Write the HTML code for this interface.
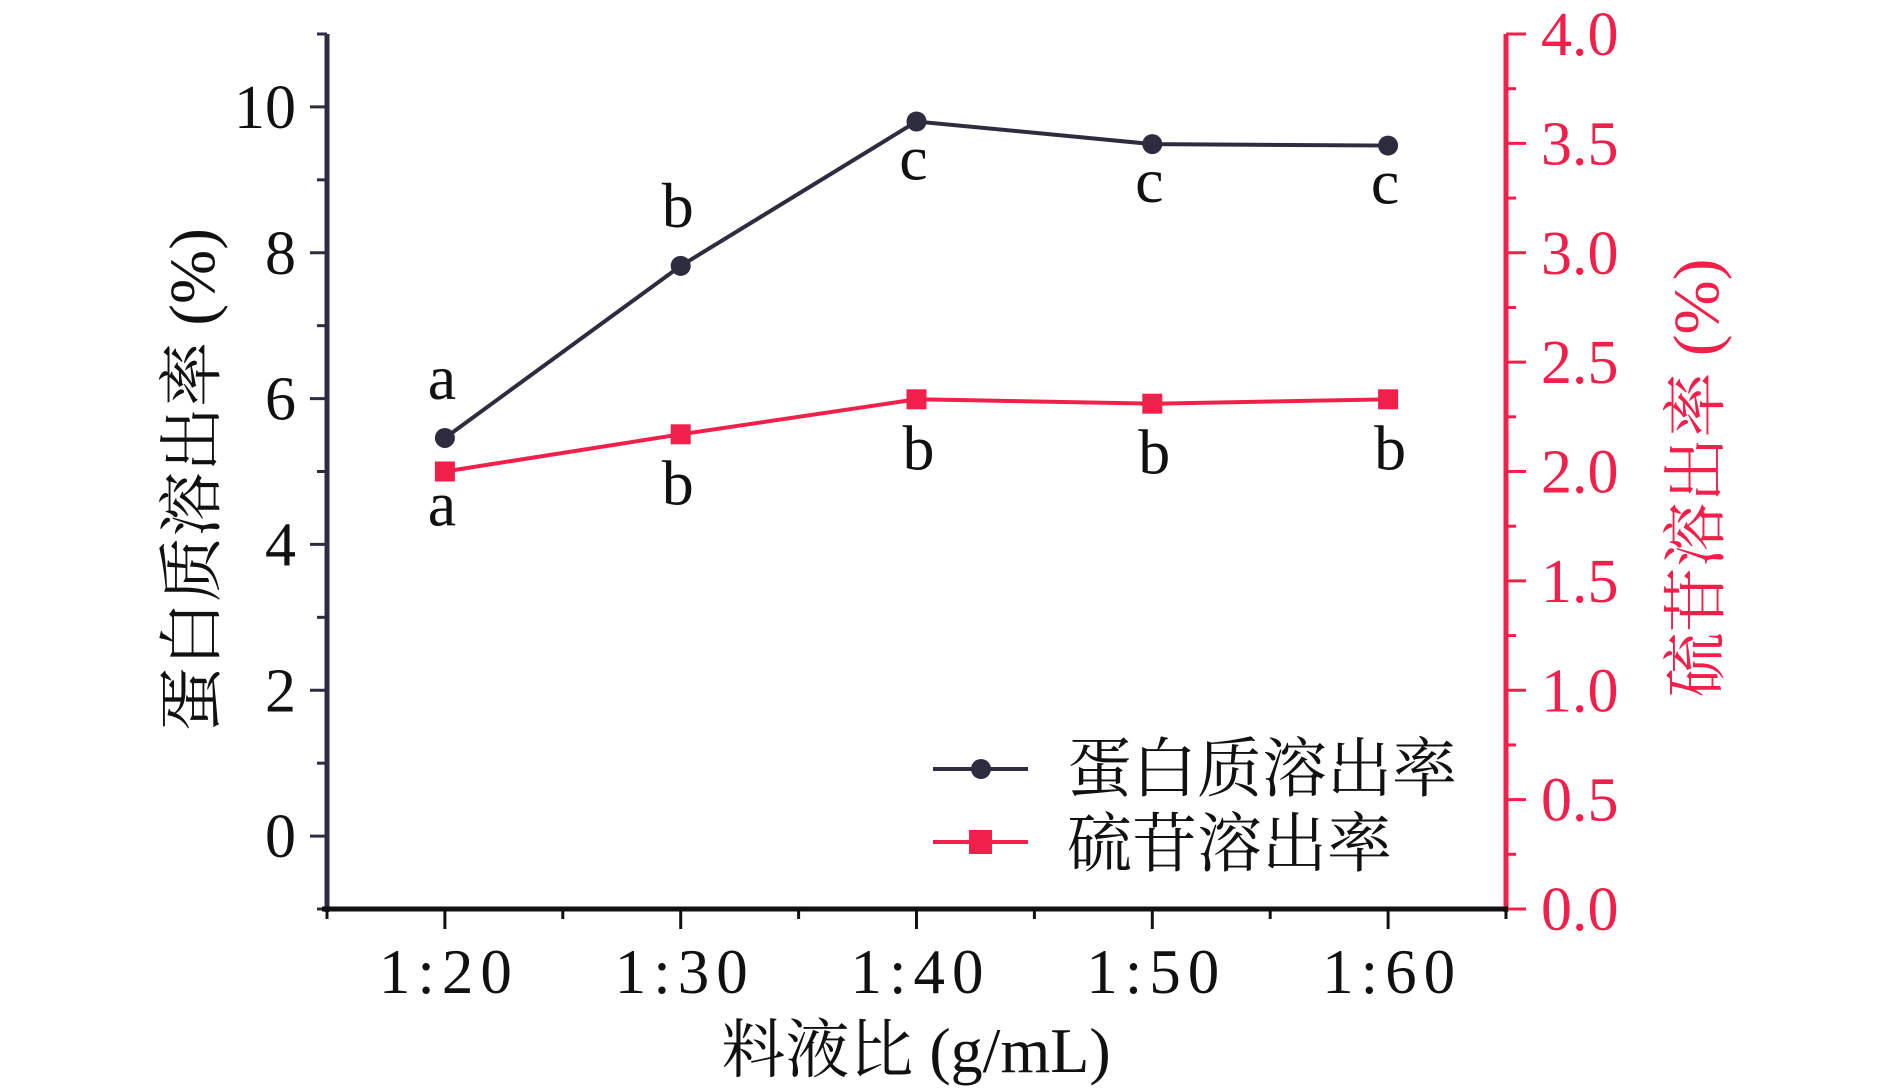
<!DOCTYPE html>
<html><head><meta charset="utf-8">
<style>
html,body{margin:0;padding:0;background:#fff;}
svg{display:block;}
text{font-family:"Liberation Serif","Noto Serif CJK SC",serif;}
</style></head>
<body>
<svg id="chart" width="1890" height="1091" viewBox="0 0 1890 1091" xmlns="http://www.w3.org/2000/svg">
<g id="axes"></g>
<g id="series"></g>
<g>
  <line x1="933" y1="769" x2="1028" y2="769" stroke="#2e2d3f" stroke-width="4"/>
  <circle cx="981" cy="769" r="10" fill="#2e2d3f"/>
  <text x="1067" y="791" font-size="65" fill="#111">蛋白质溶出率</text>
  <line x1="933" y1="842" x2="1028" y2="842" stroke="#f0204a" stroke-width="4"/>
  <rect x="969" y="830" width="23" height="24" fill="#f0204a"/>
  <text x="1067" y="866" font-size="65" fill="#111">硫苷溶出率</text>
</g>
<text x="0" y="0" font-size="65" fill="#111" text-anchor="middle" transform="translate(214,480) rotate(-90)">蛋白质溶出率 (%)</text>
<text x="0" y="0" font-size="65" fill="#f0204a" text-anchor="middle" transform="translate(1718,478) rotate(-90)">硫苷溶出率 (%)</text>
<text x="916" y="1072" font-size="64" fill="#111" text-anchor="middle">料液比 (g/mL)</text>
</svg>
<script>
const categories = ["1:20","1:30","1:40","1:50","1:60"];
const proteinValues = [5.46, 7.82, 9.80, 9.49, 9.47];
const glucoValues = [2.00, 2.17, 2.33, 2.31, 2.33];
const proteinLetters = ["a","b","c","c","c"];
const glucoLetters = ["a","b","b","b","b"];
const leftTicks = [0,2,4,6,8,10];
const rightTicks = ["0.0","0.5","1.0","1.5","2.0","2.5","3.0","3.5","4.0"];

const NS="http://www.w3.org/2000/svg";
const X0=327, X1=1506, YT=34, YB=909;
const DARK="#2e2d3f", RED="#f0204a";
function xPos(i){return X0+(i+0.5)*(X1-X0)/categories.length;}
function yL(v){return YB-(v+1)*(YB-YT)/12;}
function yR(v){return YB-v*(YB-YT)/4;}
function mk(tag,attrs,parent){const e=document.createElementNS(NS,tag);for(const k in attrs)e.setAttribute(k,attrs[k]);parent.appendChild(e);return e;}
const axes=document.getElementById('axes'), series=document.getElementById('series');

let e=mk('line',{x1:X0,y1:YT,x2:X0,y2:YB+3,stroke:DARK,'stroke-width':5},axes);


for(let v=-1;v<=11;v++){
  const y=yL(v), major=(v%2===0);
  e=mk('line',{x1:major?X0-17:X0-10,y1:y,x2:X0,y2:y,stroke:DARK,'stroke-width':3},axes);
  
  
}
leftTicks.forEach(v=>{
  e=mk('text',{x:296,y:yL(v)+21,'font-size':62,'text-anchor':'end',fill:'#111'},axes);
  e.textContent=v;
  
  
});
e=mk('line',{x1:X1,y1:YT,x2:X1,y2:YB+3,stroke:RED,'stroke-width':5},axes);


for(let k=0;k<=16;k++){
  const v=k*0.25, y=yR(v), major=(k%2===0);
  e=mk('line',{x1:X1,y1:y,x2:major?X1+20:X1+10,y2:y,stroke:RED,'stroke-width':3},axes);
  
  
}
rightTicks.forEach(t=>{
  e=mk('text',{x:1541,y:yR(parseFloat(t))+21,'font-size':62,fill:RED},axes);
  e.textContent=t;
  
  
});
e=mk('line',{x1:X0-5,y1:YB,x2:X1+2,y2:YB,stroke:'#111','stroke-width':5},axes);


for(let k=0;k<=categories.length*2;k++){
  const x=X0+k*(X1-X0)/(categories.length*2), major=(k%2===1);
  e=mk('line',{x1:x,y1:YB,x2:x,y2:YB+(major?20:10),stroke:'#111','stroke-width':3},axes);
  
  
}
categories.forEach((c,i)=>{
  e=mk('text',{x:xPos(i)+4,y:993,'font-size':63,'text-anchor':'middle',fill:'#111','letter-spacing':7},axes);
  e.textContent=c;
  
  
});
e=mk('polyline',{points:proteinValues.map((v,i)=>xPos(i)+','+yL(v)).join(' '),fill:'none',stroke:DARK,'stroke-width':4},series);


proteinValues.forEach((v,i)=>{
  e=mk('circle',{cx:xPos(i),cy:yL(v),r:10,fill:DARK},series);
  
  
  e=mk('text',{x:xPos(i)-3,y:yL(v)+(i<2?-39:58),'font-size':64,'text-anchor':'middle',fill:'#111'},series);
  e.textContent=proteinLetters[i];
  
  
});
e=mk('polyline',{points:glucoValues.map((v,i)=>xPos(i)+','+yR(v)).join(' '),fill:'none',stroke:RED,'stroke-width':4},series);


glucoValues.forEach((v,i)=>{
  e=mk('rect',{x:xPos(i)-10,y:yR(v)-10,width:20,height:20,fill:RED},series);
  
  
  e=mk('text',{x:xPos(i)+(i<2?-3:2),y:yR(v)+(i===0?54:70),'font-size':64,'text-anchor':'middle',fill:'#111'},series);
  e.textContent=glucoLetters[i];
  
  
});
</script>
</body></html>
